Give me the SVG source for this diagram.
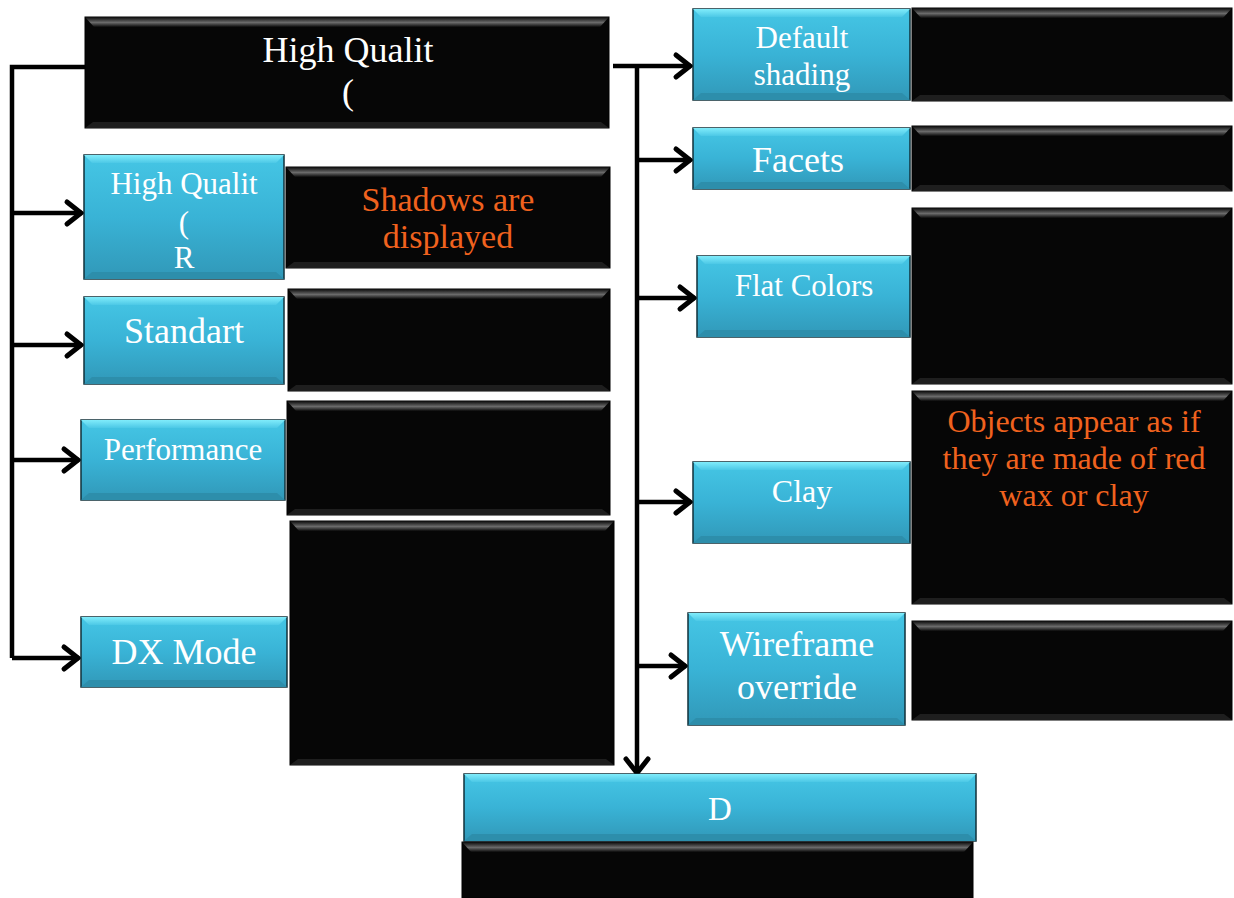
<svg xmlns="http://www.w3.org/2000/svg" width="1234" height="898" viewBox="0 0 1234 898">
<defs>
<linearGradient id="cyanBody" x1="0" y1="0" x2="0" y2="1">
<stop offset="0" stop-color="#45c6e5"/>
<stop offset="0.5" stop-color="#39b3d6"/>
<stop offset="1" stop-color="#3198b8"/>
</linearGradient>
<linearGradient id="cyanTop" x1="0" y1="0" x2="0" y2="1">
<stop offset="0" stop-color="#80ecfb"/>
<stop offset="1" stop-color="#4cc8e6"/>
</linearGradient>
<linearGradient id="blackTop" x1="0" y1="0" x2="0" y2="1">
<stop offset="0" stop-color="#0a0a0a"/>
<stop offset="0.55" stop-color="#6a6a6a"/>
<stop offset="1" stop-color="#0a0a0a"/>
</linearGradient>
<marker id="arr" markerUnits="userSpaceOnUse" markerWidth="24" markerHeight="28" viewBox="-20 -14 24 28" refX="0" refY="0" orient="auto" overflow="visible">
<path d="M-15,-11 L-1,0 L-15,11" fill="none" stroke="#000" stroke-width="5" stroke-linecap="round" stroke-linejoin="miter"/>
</marker>
<style>
.cy{fill:url(#cyanBody);stroke:#10303a;stroke-width:1.5}
.cyt{fill:url(#cyanTop)}
.cyb{fill:#2d8eab}
.bk{fill:#060606;stroke:#000;stroke-width:1}
.bkt{fill:url(#blackTop)}
.bkb{fill:#1e1e1e}
.w{fill:#fff;font-family:"Liberation Serif","Times New Roman",serif;text-anchor:middle}
.o{fill:#f0621e;font-family:"Liberation Serif","Times New Roman",serif;text-anchor:middle}
.ln{fill:none;stroke:#000;stroke-width:4.5}
</style>
</defs>
<rect width="1234" height="898" fill="#fff"/>

<!-- connectors -->
<g id="connectors">
<path class="ln" d="M85,67 H12 V658"/>
<path class="ln" d="M12,213 H82" marker-end="url(#arr)"/>
<path class="ln" d="M12,345 H82" marker-end="url(#arr)"/>
<path class="ln" d="M12,460 H79" marker-end="url(#arr)"/>
<path class="ln" d="M12,658 H79" marker-end="url(#arr)"/>
<path class="ln" d="M613,66 H691" marker-end="url(#arr)"/>
<path class="ln" d="M637,66 V774" marker-end="url(#arr)"/>
<path class="ln" d="M637,160 H691" marker-end="url(#arr)"/>
<path class="ln" d="M637,298 H695" marker-end="url(#arr)"/>
<path class="ln" d="M637,502 H691" marker-end="url(#arr)"/>
<path class="ln" d="M637,666 H686" marker-end="url(#arr)"/>
</g>

<!-- top black box -->
<g id="top">
<rect class="bk" x="85" y="17" width="524" height="111"/>
<polygon class="bkt" points="85,17 609,17 600,27 94,27"/>
<polygon class="bkb" points="85,128 609,128 601,122 93,122"/>
<text class="w" x="348" y="62" font-size="36">High Qualit</text>
<text class="w" x="348" y="104" font-size="36">(</text>
</g>

<!-- left column -->
<g id="hq">
<rect class="cy" x="84" y="155" width="200" height="124"/>
<polygon class="cyt" points="84,155 284,155 276,163 92,163"/>
<polygon class="cyb" points="84,279 284,279 276,272 92,272"/>
<text class="w" x="184" y="194" font-size="31">High Qualit</text>
<text class="w" x="184" y="233" font-size="31">(</text>
<text class="w" x="184" y="268" font-size="31">R</text>
</g>
<g id="hq-desc">
<rect class="bk" x="286" y="167" width="324" height="101"/>
<polygon class="bkt" points="286,167 610,167 601,177 295,177"/>
<polygon class="bkb" points="286,268 610,268 602,262 294,262"/>
<text class="o" x="448" y="211" font-size="34">Shadows are</text>
<text class="o" x="448" y="248" font-size="34">displayed</text>
</g>

<g id="standart">
<rect class="cy" x="84" y="297" width="200" height="87"/>
<polygon class="cyt" points="84,297 284,297 276,305 92,305"/>
<polygon class="cyb" points="84,384 284,384 276,377 92,377"/>
<text class="w" x="184" y="343" font-size="36">Standart</text>
</g>
<g id="standart-desc">
<rect class="bk" x="288" y="289" width="322" height="102"/>
<polygon class="bkt" points="288,289 610,289 601,299 297,299"/>
<polygon class="bkb" points="288,391 610,391 602,385 296,385"/>
</g>

<g id="performance">
<rect class="cy" x="81" y="420" width="204" height="80"/>
<polygon class="cyt" points="81,420 285,420 277,428 89,428"/>
<polygon class="cyb" points="81,500 285,500 277,493 89,493"/>
<text class="w" x="183" y="460" font-size="31">Performance</text>
</g>
<g id="performance-desc">
<rect class="bk" x="287" y="401" width="323" height="114"/>
<polygon class="bkt" points="287,401 610,401 601,411 296,411"/>
<polygon class="bkb" points="287,515 610,515 602,509 295,509"/>
</g>

<g id="dxmode">
<rect class="cy" x="81" y="617" width="206" height="70"/>
<polygon class="cyt" points="81,617 287,617 279,625 89,625"/>
<polygon class="cyb" points="81,687 287,687 279,680 89,680"/>
<text class="w" x="184" y="664" font-size="36">DX Mode</text>
</g>
<g id="dxmode-desc">
<rect class="bk" x="290" y="521" width="324" height="244"/>
<polygon class="bkt" points="290,521 614,521 605,531 299,531"/>
<polygon class="bkb" points="290,765 614,765 606,759 298,759"/>
</g>

<!-- right column -->
<g id="default">
<rect class="cy" x="693" y="9" width="217" height="91"/>
<polygon class="cyt" points="693,9 910,9 902,17 701,17"/>
<polygon class="cyb" points="693,100 910,100 902,93 701,93"/>
<text class="w" x="802" y="48" font-size="31">Default</text>
<text class="w" x="802" y="85" font-size="31">shading</text>
</g>
<g id="default-desc">
<rect class="bk" x="912" y="8" width="320" height="93"/>
<polygon class="bkt" points="912,8 1232,8 1223,18 921,18"/>
<polygon class="bkb" points="912,101 1232,101 1224,95 920,95"/>
</g>

<g id="facets">
<rect class="cy" x="693" y="128" width="217" height="61"/>
<polygon class="cyt" points="693,128 910,128 902,136 701,136"/>
<polygon class="cyb" points="693,189 910,189 902,182 701,182"/>
<text class="w" x="798" y="172" font-size="36">Facets</text>
</g>
<g id="facets-desc">
<rect class="bk" x="912" y="126" width="320" height="65"/>
<polygon class="bkt" points="912,126 1232,126 1223,136 921,136"/>
<polygon class="bkb" points="912,191 1232,191 1224,185 920,185"/>
</g>

<g id="flat">
<rect class="cy" x="697" y="256" width="213" height="81"/>
<polygon class="cyt" points="697,256 910,256 902,264 705,264"/>
<polygon class="cyb" points="697,337 910,337 902,330 705,330"/>
<text class="w" x="804" y="296" font-size="31">Flat Colors</text>
</g>
<g id="flat-desc">
<rect class="bk" x="912" y="208" width="320" height="176"/>
<polygon class="bkt" points="912,208 1232,208 1223,218 921,218"/>
<polygon class="bkb" points="912,384 1232,384 1224,378 920,378"/>
</g>

<g id="clay">
<rect class="cy" x="693" y="462" width="217" height="81"/>
<polygon class="cyt" points="693,462 910,462 902,470 701,470"/>
<polygon class="cyb" points="693,543 910,543 902,536 701,536"/>
<text class="w" x="802" y="502" font-size="32">Clay</text>
</g>
<g id="clay-desc">
<rect class="bk" x="912" y="391" width="320" height="213"/>
<polygon class="bkt" points="912,391 1232,391 1223,401 921,401"/>
<polygon class="bkb" points="912,604 1232,604 1224,598 920,598"/>
<text class="o" x="1074" y="432" font-size="32">Objects appear as if</text>
<text class="o" x="1074" y="469" font-size="32">they are made of red</text>
<text class="o" x="1074" y="506" font-size="32">wax or clay</text>
</g>

<g id="wireframe">
<rect class="cy" x="688" y="613" width="217" height="112"/>
<polygon class="cyt" points="688,613 905,613 897,621 696,621"/>
<polygon class="cyb" points="688,725 905,725 897,718 696,718"/>
<text class="w" x="797" y="656" font-size="36">Wireframe</text>
<text class="w" x="797" y="699" font-size="36">override</text>
</g>
<g id="wireframe-desc">
<rect class="bk" x="912" y="621" width="320" height="99"/>
<polygon class="bkt" points="912,621 1232,621 1223,631 921,631"/>
<polygon class="bkb" points="912,720 1232,720 1224,714 920,714"/>
</g>

<!-- bottom -->
<g id="d">
<rect class="cy" x="464" y="774" width="512" height="67"/>
<polygon class="cyt" points="464,774 976,774 968,782 472,782"/>
<polygon class="cyb" points="464,841 976,841 968,834 472,834"/>
<text class="w" x="720" y="820" font-size="33">D</text>
</g>
<g id="d-desc">
<rect class="bk" x="462" y="842" width="511" height="56"/>
<polygon class="bkt" points="462,842 973,842 964,852 471,852"/>
</g>
</svg>
